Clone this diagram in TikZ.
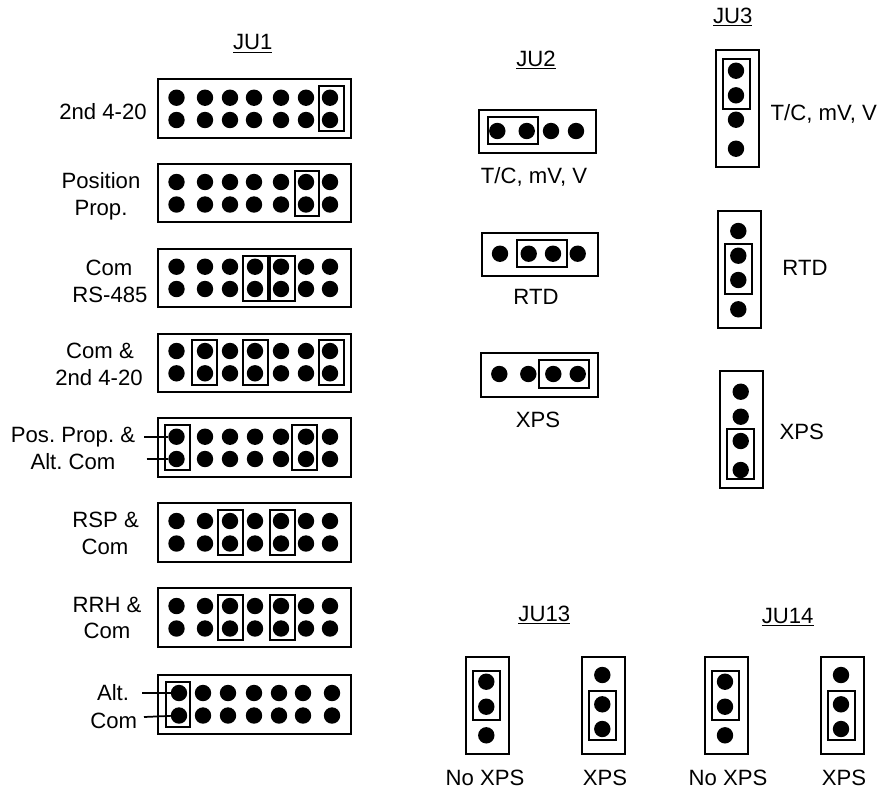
\documentclass[tikz,border=0pt]{standalone}
\usepackage{fontspec}
\setmainfont{Liberation Sans}
\tikzset{
  x=0.75pt,y=-0.75pt,
  pin/.style={circle,fill=black,draw=none,inner sep=0pt,outer sep=0pt,minimum size=12.3pt},
  board/.style={draw=black,line width=1.6pt,fill=none,inner sep=0pt,outer sep=0pt},
  jumper/.style={draw=black,line width=1.5pt,fill=none,inner sep=0pt,outer sep=0pt},
  lbl/.style={anchor=base,inner sep=0pt,outer sep=0pt,font=\fontsize{16.6}{18}\selectfont\frenchspacing},
  leader/.style={draw=black,line width=1.3pt},
}
% \boxat{style}{name}{x1}{y1}{x2}{y2}
\newcommand{\boxat}[6]{%
  \pgfmathsetmacro{\bxw}{(#5-#3)*0.75}\pgfmathsetmacro{\bxh}{(#6-#4)*0.75}%
  \node[#1,minimum width=\bxw pt,minimum height=\bxh pt] (#2) at ({(#3+#5)/2},{(#4+#6)/2}) {};}
% \lab{name}{cx}{capcentre y}{text}
\newcommand{\lab}[4]{\node[lbl] (#1) at (#2,{#3+7.8}) {#4};}
% double-row header: \hdr{id}{top}{r1}{r2}{x list}
\newcommand{\hdr}[5]{%
  \boxat{board}{b#1}{158}{#2}{351}{#2+58.3}
  \edef\hlist{#5}%
  \foreach \n/\px in \hlist {%
    \node[pin] (p#1a\n) at (\px,#3) {};
    \node[pin] (p#1b\n) at (\px,#4) {};
  }}
\newcommand{\stdx}{1/176.5,2/205,3/230,4/255,5/281,6/306,7/330}
\begin{document}
\begin{tikzpicture}
\useasboundingbox (0,0) rectangle (886,794);
% JU1
\lab{tju1}{252.7}{42}{\underline{JU1}}
\hdr{A}{79.3}{97.7}{120}{1/176.5,2/205,3/230,4/254,5/281,6/306,7/330}
\boxat{jumper}{jA1}{319}{86}{344}{131}
\lab{lA1}{103}{112}{2nd 4-20}

\hdr{B}{164}{182}{204.5}{1/176.5,2/205,3/230,4/254,5/281,6/306,7/330}
\boxat{jumper}{jB1}{294.7}{171}{319}{215.7}
\lab{lB1}{101}{180.7}{Position}
\lab{lB2}{101}{207.7}{Prop.}

\hdr{C}{249}{266.7}{289}{\stdx}
\boxat{jumper}{jC1}{242.7}{255.7}{268.3}{300.7}
\boxat{jumper}{jC2}{270}{255.7}{295.3}{300.7}
\lab{lC1}{109}{268}{Com}
\lab{lC2}{110}{295}{RS-485}

\hdr{D}{334}{351}{373.3}{\stdx}
\boxat{jumper}{jD1}{191.7}{340}{216.7}{385.3}
\boxat{jumper}{jD2}{243}{340}{268.3}{385.3}
\boxat{jumper}{jD3}{319}{340}{344}{385.3}
\lab{lD1}{100}{351}{Com \&}
\lab{lD2}{99}{377.6}{2nd 4-20}

\hdr{E}{418.3}{436.7}{459}{\stdx}
\boxat{jumper}{jE1}{165}{425}{190}{470}
\boxat{jumper}{jE2}{292}{425}{317}{470}
\lab{lE1}{73}{435}{Pos. Prop. \&}
\lab{lE2}{73}{462}{Alt. Com}
\coordinate (cE1) at (144,436.7);
\coordinate (cE2) at (146.7,459);
\draw[leader] (cE1) -- (pEa1);
\draw[leader] (cE2) -- (pEb1);

\hdr{F}{503.3}{521}{543.5}{\stdx}
\boxat{jumper}{jF1}{218}{509.5}{243}{555}
\boxat{jumper}{jF2}{269.5}{509.5}{295}{555}
\lab{lF1}{105.7}{520}{RSP \&}
\lab{lF2}{105}{547}{Com}

\hdr{G}{588.3}{606}{628.5}{\stdx}
\boxat{jumper}{jG1}{218}{594.5}{243}{640}
\boxat{jumper}{jG2}{269.5}{594.5}{295}{640}
\lab{lG1}{107}{605}{RRH \&}
\lab{lG2}{107}{631}{Com}

\hdr{H}{675.3}{693}{715.5}{1/179,2/203,3/228,4/254,5/279,6/303,7/332}
\boxat{jumper}{jH1}{165.7}{682}{190}{726.7}
\lab{lH1}{113}{693}{Alt.}
\lab{lH2}{113.7}{720.7}{Com}
\coordinate (cH1) at (142,693);
\coordinate (cH2) at (144,717);
\draw[leader] (cH1) -- (pHa1);
\draw[leader] (cH2) -- (pHb1);

% JU2
\lab{tju2}{536}{58.5}{\underline{JU2}}
\boxat{board}{bJ}{479.3}{110.3}{596}{153.3}
\foreach \n/\px in {1/497.3,2/526.7,3/551,4/576}{\node[pin] (pJ\n) at (\px,131) {};}
\boxat{jumper}{jJ}{488.3}{117}{538}{144.3}
\lab{lJ}{534}{175.7}{T/C, mV, V}

\boxat{board}{bK}{481.7}{233.3}{598.3}{276}
\foreach \n/\px in {1/500,2/528.7,3/553,4/577.7}{\node[pin] (pK\n) at (\px,253.7) {};}
\boxat{jumper}{jK}{517.3}{240}{567}{267.3}
\lab{lK}{536}{297}{RTD}

\boxat{board}{bL}{481}{353.3}{598.3}{396.7}
\foreach \n/\px in {1/499.3,2/528.3,3/553.3,4/577.7}{\node[pin] (pL\n) at (\px,374) {};}
\boxat{jumper}{jL}{539.3}{360}{589.3}{387.7}
\lab{lL}{538}{420}{XPS}

% JU3
\lab{tju3}{732.7}{15.5}{\underline{JU3}}
\boxat{board}{bM}{715.7}{50.3}{759}{166.7}
\foreach \n/\py in {1/70.7,2/95.3,3/119.7,4/148.7}{\node[pin] (pM\n) at (736,\py) {};}
\boxat{jumper}{jM}{722.7}{59}{750.3}{108.7}
\node[lbl,anchor=base west] (lM) at (770.7,120.8) {T/C, mV, V};

\boxat{board}{bN}{717.7}{210.7}{761.3}{327.7}
\foreach \n/\py in {1/231,2/255.7,3/280,4/309.3}{\node[pin] (pN\n) at (738.3,\py) {};}
\boxat{jumper}{jN}{724.7}{244.3}{752.3}{294}
\lab{lN}{805}{268}{RTD}

\boxat{board}{bO}{720}{371}{763.3}{488.3}
\foreach \n/\py in {1/391.7,2/416.7,3/441,4/470}{\node[pin] (pO\n) at (740.7,\py) {};}
\boxat{jumper}{jO}{727}{429.3}{754.3}{479}
\lab{lO}{801.7}{432}{XPS}

% JU13
\lab{tju13}{544.3}{613.5}{\underline{JU13}}
\boxat{board}{bP}{465.7}{657}{509.3}{753.7}
\foreach \n/\py in {1/681.7,2/706.7,3/735.3}{\node[pin] (pP\n) at (486.3,\py) {};}
\boxat{jumper}{jP}{472.7}{670.7}{500.3}{720}
\lab{lP}{485}{778}{No XPS}

\boxat{board}{bQ}{581.7}{657}{625.3}{753.7}
\foreach \n/\py in {1/675,2/704.3,3/729}{\node[pin] (pQ\n) at (602.3,\py) {};}
\boxat{jumper}{jQ}{588.7}{690.7}{616.3}{740.3}
\lab{lQ}{605}{778}{XPS}

% JU14
\lab{tju14}{787.7}{615.5}{\underline{JU14}}
\boxat{board}{bR}{704.7}{657}{748}{753.7}
\foreach \n/\py in {1/681.7,2/706.7,3/735.3}{\node[pin] (pR\n) at (725,\py) {};}
\boxat{jumper}{jR}{711.7}{670.7}{739}{720}
\lab{lR}{728}{778}{No XPS}

\boxat{board}{bS}{820.7}{657}{864}{753.7}
\foreach \n/\py in {1/675,2/704.3,3/729}{\node[pin] (pS\n) at (841,\py) {};}
\boxat{jumper}{jS}{827.7}{690.7}{855}{740.3}
\lab{lS}{844}{778}{XPS}
\end{tikzpicture}
\end{document}
